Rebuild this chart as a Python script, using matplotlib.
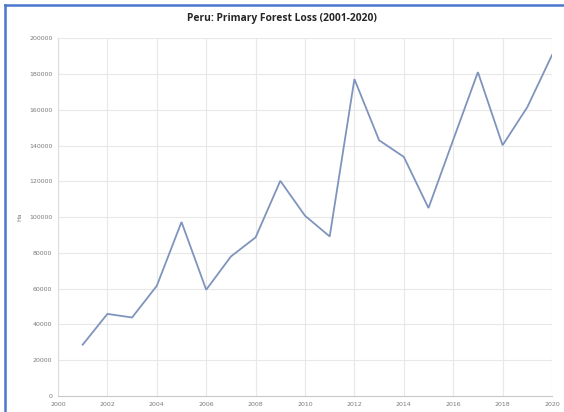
import matplotlib
matplotlib.use("Agg")
import matplotlib.pyplot as plt
from matplotlib.lines import Line2D

years = [2001, 2002, 2003, 2004, 2005, 2006, 2007, 2008, 2009, 2010,
         2011, 2012, 2013, 2014, 2015, 2016, 2017, 2018, 2019, 2020]
loss_ha = [28700, 45900, 43900, 61600, 97300, 59400, 78000, 88700, 120300, 100800,
           89200, 177200, 143000, 133700, 105100, 143200, 181100, 140200, 161500, 190600]
x_ticks = list(range(2000, 2021, 2))
y_ticks = list(range(0, 200001, 20000))

W, H = 564, 412
fig = plt.figure(figsize=(W / 100, H / 100), dpi=100)
fig.patch.set_facecolor("white")

ax = fig.add_axes([58 / W, 1 - 396 / H, (552 - 58) / W, (396 - 38.3) / H])
ax.plot(years, loss_ha, color="#7f94bd", linewidth=1.3, solid_joinstyle="miter")

ax.set_xlim(2000, 2020)
ax.set_ylim(0, 200000)
ax.set_xticks(x_ticks)
ax.set_yticks(y_ticks)
ax.set_xticklabels([str(t) for t in x_ticks])
ax.set_yticklabels([str(t) for t in y_ticks])
ax.grid(True, color="#e8e8e8", linewidth=0.8)
ax.set_axisbelow(True)
for side in ("top", "right"):
    ax.spines[side].set_visible(False)
ax.spines["left"].set_color("#dcdcdc")
ax.spines["bottom"].set_color("#c8c8c8")
ax.tick_params(length=0, labelsize=4.5, labelcolor="#7a7a7a", pad=4)
ax.set_ylabel("Ha", fontsize=4.5, color="#7a7a7a")
ax.yaxis.set_label_coords(-0.073, 0.5)

fig.text(282 / W, 1 - 19 / H, "Peru: Primary Forest Loss (2001-2020)",
         ha="center", va="center", fontsize=7.4, fontweight="bold",
         family="Open Sans", color="#262626")

# blue frame along the top and left edges
border = "#4a78cf"
fig.add_artist(Line2D([5 / W, 1], [1 - 5 / H, 1 - 5 / H], color=border,
                      linewidth=1.8, transform=fig.transFigure))
fig.add_artist(Line2D([5 / W, 5 / W], [0, 1 - 5 / H], color=border,
                      linewidth=1.8, transform=fig.transFigure))

fig.savefig("out.png", dpi=100, facecolor="white")
